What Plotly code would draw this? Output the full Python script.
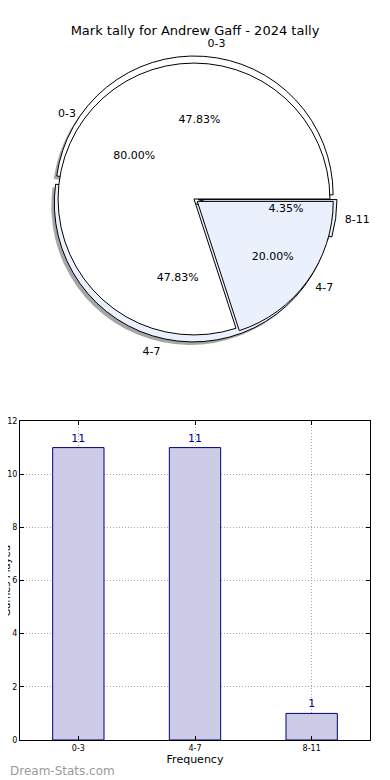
import plotly.graph_objects as go

# ---- data ----
title_text = "Mark tally for Andrew Gaff - 2024 tally"
pie_a_labels = ["0-3", "4-7", "8-11"]
pie_a_values = [11, 11, 1]
pie_b_labels = ["0-3", "4-7"]
pie_b_values = [4, 1]
bar_categories = ["0-3", "4-7", "8-11"]
bar_values = [11, 11, 1]
y_ticks = [0, 2, 4, 6, 8, 10, 12]
y_title = "Games Played"

# the page body has an 8px margin: work in screen pixels and convert
OFF = 8
W, H = 390 - OFF, 780 - OFF
FONT = "DejaVu Sans"
WHITE = "#ffffff"
LBLUE = "#eaf0fc"
CLEAR = "rgba(0,0,0,0)"
PCT = "%{percent:.2%}"


def px(x):
    return (x - OFF) / W


def py(y):
    return (H - (y - OFF)) / H


def dom(cx, cy, r, dx=0, dy=0):
    return dict(x=[px(cx - r + dx), px(cx + r + dx)],
                y=[py(cy + r + dy), py(cy - r + dy)])


def start_rot(values):
    # first slice runs counterclockwise from 3 o'clock (matplotlib style)
    return 90 - 360 * values[0] / sum(values)


CX, CY = 194, 199
RA, RB = 143, 140
PULL_A = [0.03, 0.03, 0.03]
PULL_B = [0, 0.03]

fig = go.Figure()

common = dict(sort=False, direction="counterclockwise", hoverinfo="skip", showlegend=False)

# shadow
fig.add_trace(go.Pie(labels=pie_a_labels, values=pie_a_values, domain=dom(CX, CY, RA, -3, 3),
                     rotation=start_rot(pie_a_values),
                     marker=dict(colors=["rgba(0,0,0,0.35)"] * 3, line=dict(width=0)),
                     pull=PULL_A, textinfo="none", **common))
# pie A fill
fig.add_trace(go.Pie(labels=pie_a_labels, values=pie_a_values, domain=dom(CX, CY, RA),
                     rotation=start_rot(pie_a_values),
                     marker=dict(colors=[WHITE, LBLUE, LBLUE], line=dict(color="black", width=1)),
                     pull=PULL_A, textinfo="none", **common))
# pie B fill
fig.add_trace(go.Pie(labels=pie_b_labels, values=pie_b_values, domain=dom(CX, CY, RB),
                     rotation=start_rot(pie_b_values),
                     marker=dict(colors=[WHITE, LBLUE], line=dict(color="black", width=1)),
                     pull=PULL_B, textinfo="none", **common))


def text_pie(labels, values, r, pull, templates, position, font):
    return go.Pie(labels=labels, values=values, domain=dom(CX, CY, r), pull=pull,
                  rotation=start_rot(values),
                  marker=dict(colors=[CLEAR] * len(values), line=dict(width=0)),
                  texttemplate=templates, textposition=position,
                  insidetextorientation="horizontal",
                  insidetextfont=font, outsidetextfont=font, **common)


f11 = dict(family=FONT, size=11, color="black")
# percentages of the big slices
fig.add_trace(text_pie(pie_a_labels, pie_a_values, RA + 12, PULL_A, [PCT, PCT, ""], "inside", f11))
# percentage of the small slice: outside label of a small invisible copy, so it sits inside the big pie
fig.add_trace(text_pie(pie_a_labels, pie_a_values, 72, PULL_A, ["", "", PCT], "outside", f11))
fig.add_trace(text_pie(pie_b_labels, pie_b_values, RB + 12, PULL_B, PCT, "inside", f11))
# outer labels
fig.add_trace(text_pie(pie_a_labels, pie_a_values, RA + 6, PULL_A, "%{label}", "outside", f11))
fig.add_trace(text_pie(pie_b_labels, pie_b_values, RB + 6, PULL_B, "%{label}", "outside", f11))

# bar chart
fig.add_trace(go.Bar(x=bar_categories, y=bar_values, width=0.44,
                     marker=dict(color="rgb(204,204,230)", line=dict(color="rgb(0,0,128)", width=1)),
                     text=bar_values, textposition="outside", cliponaxis=False,
                     textfont=dict(family=FONT, size=11, color="rgb(0,0,140)"),
                     hoverinfo="skip", showlegend=False))

axis_common = dict(showline=True, linecolor="black", linewidth=1, mirror="ticks",
                   ticks="inside", ticklen=4, tickcolor="black",
                   showgrid=True, gridcolor="rgb(170,170,170)", griddash="1px,2px", gridwidth=1,
                   tickfont=dict(family=FONT, size=8, color="black"), zeroline=False,
                   automargin=False)

fig.update_layout(
    width=W, height=H,
    margin=dict(l=0, r=0, t=0, b=0),
    paper_bgcolor="white", plot_bgcolor="white",
    font=dict(family=FONT, color="black"),
    title=dict(text=title_text, x=px(195), xanchor="center", y=py(30), yanchor="middle",
               font=dict(family=FONT, size=13, color="black")),
    xaxis=dict(domain=[px(20), px(370)], range=[-0.5, 2.5], type="category",
               title=dict(text="Frequency", standoff=3, font=dict(family=FONT, size=11)),
               **axis_common),
    yaxis=dict(domain=[py(740), py(421)], range=[0, 12], tickvals=y_ticks, **axis_common),
    annotations=[
        dict(text="Dream-Stats.com", xref="paper", yref="paper", x=0, y=py(771),
             xanchor="left", yanchor="middle", showarrow=False,
             font=dict(family=FONT, size=12, color="#9a9a9a")),
        dict(text=y_title, xref="paper", yref="paper", x=px(13), y=py(581),
             xanchor="right", yanchor="middle", textangle=-90, showarrow=False,
             font=dict(family=FONT, size=10, color="black")),
    ],
)

fig.write_html("out.html")
